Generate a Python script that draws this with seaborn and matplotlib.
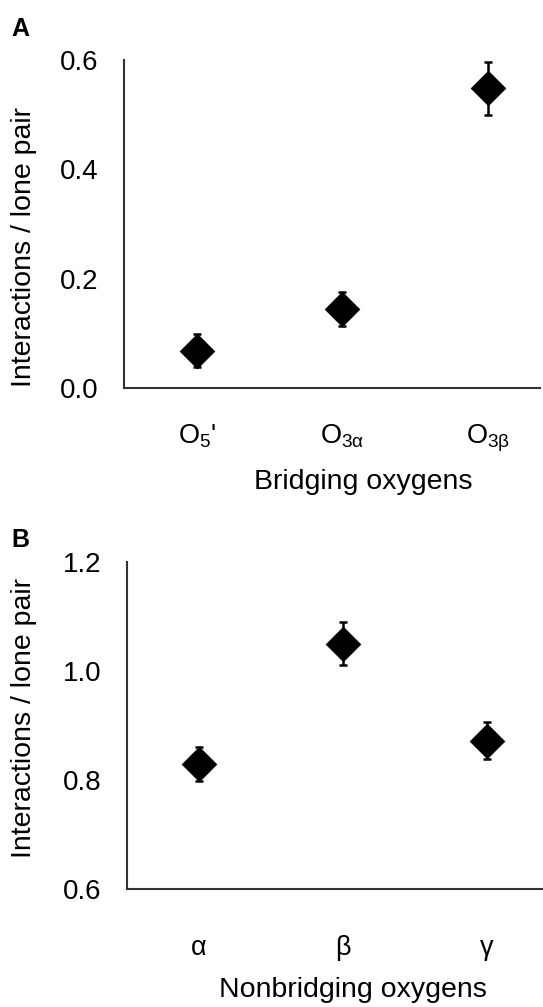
import matplotlib
matplotlib.use("Agg")
import matplotlib.pyplot as plt
import seaborn as sns
import pandas as pd

# Panel A: bridging oxygens
bridging_labels = ["O$_{\\mathrm{5}}$'", "O$_{\\mathrm{3α}}$", "O$_{\\mathrm{3β}}$"]
bridging_mean = [0.068, 0.144, 0.548]
bridging_err = [0.030, 0.031, 0.049]
bridging_ticks = [0.0, 0.2, 0.4, 0.6]

# Panel B: nonbridging oxygens
nonbridging_labels = ["α", "β", "γ"]
nonbridging_mean = [0.830, 1.050, 0.872]
nonbridging_err = [0.031, 0.039, 0.034]
nonbridging_ticks = [0.6, 0.8, 1.0, 1.2]

sns.set_theme(style="white")
plt.rcParams["font.family"] = ["Liberation Sans", "DejaVu Sans"]
plt.rcParams["mathtext.fontset"] = "custom"
plt.rcParams["mathtext.rm"] = "Liberation Sans"
plt.rcParams["mathtext.it"] = "Liberation Sans:italic"

W, H = 543, 1007
fig = plt.figure(figsize=(W / 100, H / 100), dpi=100)


def px_axes(left, top, right, bottom):
    return fig.add_axes([left / W, 1 - bottom / H, (right - left) / W, (bottom - top) / H])


def panel(ax, labels, mean, err, ticks, xlabel, xlab_pos, ylab_pos, letter, letter_pos,
          xmax, xpad):
    df = pd.DataFrame({"cat": labels, "val": mean})
    ax.errorbar(range(len(labels)), mean, yerr=err, fmt="none", ecolor="black",
                elinewidth=1.8, capsize=2.8, capthick=1.8, zorder=2)
    sns.scatterplot(data=df, x="cat", y="val", marker="D", s=330, color="black",
                    edgecolor="black", linewidth=0, ax=ax, zorder=3)
    ax.set_xlim(-0.5, xmax)
    ax.set_ylim(ticks[0], ticks[-1])
    ax.set_yticks(ticks)
    ax.set_yticklabels([f"{t:.1f}" for t in ticks])
    ax.set_xticks(range(len(labels)))
    ax.set_xticklabels(labels)
    ax.tick_params(axis="y", length=0, pad=18.5, labelsize=20, colors="black")
    ax.tick_params(axis="x", length=0, pad=xpad, labelsize=19.5, colors="black")
    for side in ("top", "right"):
        ax.spines[side].set_visible(False)
    for side in ("left", "bottom"):
        ax.spines[side].set_color("#333333")
        ax.spines[side].set_linewidth(1.5)
    ax.set_xlabel("")
    ax.set_ylabel("Interactions / lone pair", fontsize=20.5, va="center", color="black")
    ax.yaxis.set_label_coords(ylab_pos[0] / W, 1 - ylab_pos[1] / H, transform=fig.transFigure)
    fig.text(xlab_pos[0] / W, 1 - xlab_pos[1] / H, xlabel, fontsize=20.5,
             ha="center", va="center", color="black")
    fig.text(letter_pos[0] / W, 1 - letter_pos[1] / H, letter, fontsize=18,
             fontweight="bold", ha="left", va="center", color="black")


axA = px_axes(124, 60, 540, 388)
panel(axA, bridging_labels, bridging_mean, bridging_err, bridging_ticks,
      "Bridging oxygens", (363, 482), (24, 247), "A", (11, 29), 2.36, 25)

axB = px_axes(127, 562, 559, 889)
panel(axB, nonbridging_labels, nonbridging_mean, nonbridging_err, nonbridging_ticks,
      "Nonbridging oxygens", (353, 990), (24, 718), "B", (11, 540), 2.5, 33)

fig.savefig("out.png", dpi=100)
